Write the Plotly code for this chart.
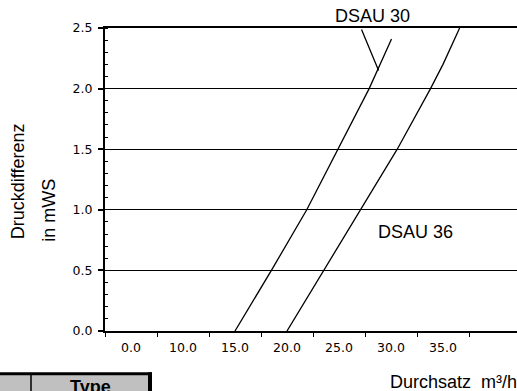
import numpy as np
import plotly.graph_objects as go

# ---- data ----
dsau30_x = [15.0, 18.5, 21.9, 24.9, 27.9, 30.05]
dsau30_y = [0.0, 0.5, 1.0, 1.5, 2.0, 2.41]
dsau36_x = [20.0, 23.55, 27.1, 30.6, 33.8, 35.0, 36.6]
dsau36_y = [0.0, 0.5, 1.0, 1.5, 2.0, 2.2, 2.5]
x_tickvals = [5, 10, 15, 20, 25, 30, 35]
x_ticktext = ["0.0", "10.0", "15.0", "20.0", "25.0", "30.0", "35.0"]
y_tickvals = [0.0, 0.5, 1.0, 1.5, 2.0, 2.5]
y_ticktext = ["0.0", "0.5", "1.0", "1.5", "2.0", "2.5"]

W, H = 517, 391
ML, MR, MT, MB = 105, 0, 28, 60.3
PW = W - ML - MR
PH = H - MT - MB


def px(x):
    return (x - ML) / PW


def py(y):
    return (H - MB - y) / PH


TICKFONT = dict(family="DejaVu Sans", size=12.5, color="black")
TXT = dict(family="Liberation Sans, Arial", size=18, color="black")
LINE_W = 1.3

fig = go.Figure()
fig.add_trace(go.Scatter(x=dsau30_x, y=dsau30_y, mode="lines",
                         line=dict(color="black", width=LINE_W),
                         name="DSAU 30", showlegend=False, cliponaxis=False))
fig.add_trace(go.Scatter(x=dsau36_x, y=dsau36_y, mode="lines",
                         line=dict(color="black", width=LINE_W),
                         name="DSAU 36", showlegend=False, cliponaxis=False))

# leader line for DSAU 30 label (tip on the curve)
tip_y = 2.15
tip_x = float(np.interp(tip_y, dsau30_y, dsau30_x)) + 0.12
annotations = [
    dict(x=tip_x, y=tip_y, ax=tip_x - 1.7, ay=2.5, xref="x", yref="y",
         axref="x", ayref="y", text="", showarrow=True, arrowhead=0,
         arrowwidth=LINE_W, arrowcolor="black", standoff=0, startstandoff=0),
    dict(x=px(372.5), y=py(16), xref="paper", yref="paper", text="DSAU 30",
         showarrow=False, font=TXT, xanchor="center", yanchor="middle"),
    dict(x=32.4, y=0.818, xref="x", yref="y", text="DSAU 36", showarrow=False,
         font=TXT, xanchor="center", yanchor="middle"),
    dict(x=px(17.5), y=py(181.5), xref="paper", yref="paper", text="Druckdifferenz",
         textangle=-90, showarrow=False, font=TXT, xanchor="center", yanchor="middle"),
    dict(x=px(49), y=py(210.5), xref="paper", yref="paper", text="in mWS",
         textangle=-90, showarrow=False, font=TXT, xanchor="center", yanchor="middle"),
    dict(x=px(388), y=py(382), xref="paper", yref="paper",
         text="Durchsatz\u00a0 m³/h", showarrow=False, font=TXT,
         xanchor="left", yanchor="middle"),
    dict(x=px(90), y=py(387), xref="paper", yref="paper", text="<b>Type</b>",
         showarrow=False, font=TXT, xanchor="center", yanchor="middle"),
]

shapes = [
    dict(type="rect", xref="paper", yref="paper", x0=px(0), x1=px(150),
         y0=py(374), y1=py(400), fillcolor="#c0c0c0", line=dict(width=0), layer="below"),
    dict(type="line", xref="paper", yref="paper", x0=px(0), x1=px(152),
         y0=py(373.5), y1=py(373.5), line=dict(color="black", width=3)),
    dict(type="line", xref="paper", yref="paper", x0=px(31), x1=px(31),
         y0=py(373), y1=py(400), line=dict(color="black", width=1.5)),
    dict(type="line", xref="paper", yref="paper", x0=px(150), x1=px(150),
         y0=py(372), y1=py(400), line=dict(color="black", width=4)),
]

fig.update_layout(
    width=W, height=H,
    margin=dict(l=ML, r=MR, t=MT, b=MB, pad=0),
    paper_bgcolor="white", plot_bgcolor="white",
    showlegend=False,
    annotations=annotations,
    shapes=shapes,
    xaxis=dict(
        range=[2.5, 2.5 + PW / 10.4],
        tickmode="array", tickvals=x_tickvals, ticktext=x_ticktext,
        ticks="", ticklen=0, tickfont=TICKFONT, ticklabelstandoff=4,
        showgrid=False, zeroline=False,
        showline=True, linecolor="black", linewidth=2, mirror=True,
        minor=dict(tick0=2.5, dtick=5, ticks="outside", ticklen=4,
                   tickwidth=1.3, tickcolor="black", showgrid=False),
        fixedrange=True,
    ),
    yaxis=dict(
        range=[0, 2.5],
        tickmode="array", tickvals=y_tickvals, ticktext=y_ticktext,
        ticks="outside", ticklen=5, tickwidth=1.5, tickcolor="black",
        tickfont=TICKFONT, ticklabelstandoff=3,
        showgrid=True, gridcolor="black", gridwidth=1.2,
        zeroline=False,
        showline=True, linecolor="black", linewidth=2.2,
        minor=dict(tick0=0, dtick=0.1, ticks="inside", ticklen=3,
                   tickwidth=1.2, tickcolor="black", showgrid=False),
        fixedrange=True,
    ),
)

fig.write_html(
    "out.html",
    config={"displayModeBar": False},
    post_script="document.body.style.margin='0';document.body.style.overflow='hidden';",
)
